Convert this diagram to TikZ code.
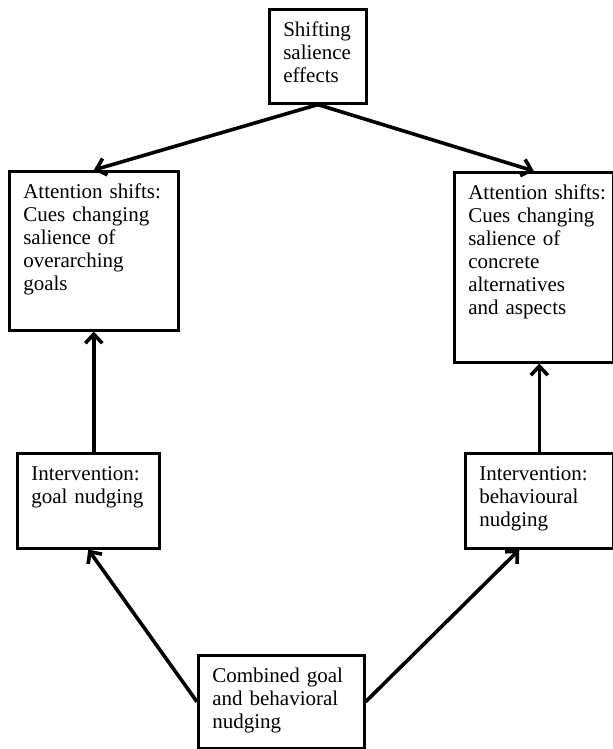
\documentclass[tikz,border=0pt]{standalone}
\usepackage{fontspec}
\setmainfont{Liberation Serif}
\usetikzlibrary{arrows.meta}
\tikzset{
  box/.style={draw, line width=1.3pt, anchor=north west, align=left,
    inner xsep=7pt, inner ysep=4pt, text height=9.5pt,
    font=\fontsize{10.5}{11.5}\selectfont},
  arr/.style={-{Straight Barb[length=4.5pt,width=8.5pt]}, line width=1.8pt},
}
\begin{document}
\begin{tikzpicture}[x=0.5pt, y=-0.5pt]
            \useasboundingbox (0,0) rectangle (613,749);

            \node[box, text width=34.5pt, text depth=29.5pt] (sal) at (268,8) {Shifting\\salience\\effects};
            \node[box, text width=70.5pt, text depth=62pt] (ag) at (8,170) {Attention~shifts:\\Cues changing\\salience of\\overarching\\goals};
            \node[box, text width=65.5pt, text depth=77.5pt] (ac) at (453,171) {Attention~shifts:\\Cues changing\\salience of\\concrete\\alternatives\\and aspects};
            \node[box, text width=57pt, text depth=30pt] (gn) at (16,452) {Intervention:\\goal nudging};
            \node[box, text width=60pt, text depth=30pt] (bn) at (464,452) {Intervention:\\behavioural\\nudging};
            \node[box, text width=69pt, text depth=29pt] (cn) at (197,654) {Combined goal\\and behavioral\\nudging};

            \draw[arr] (sal.south) -- (ag.north);
            \draw[arr] (sal.south) -- (ac.north);
            \draw[arr] (ag.south |- gn.north) -- (ag.south);
            \draw[arr] (bn.north) -- (bn.north |- ac.south);
            \draw[arr] (cn.west) -- (gn.south);
            \draw[arr] (cn.east) -- ([xshift=-10pt]bn.south);
        \end{tikzpicture}
\end{document}
